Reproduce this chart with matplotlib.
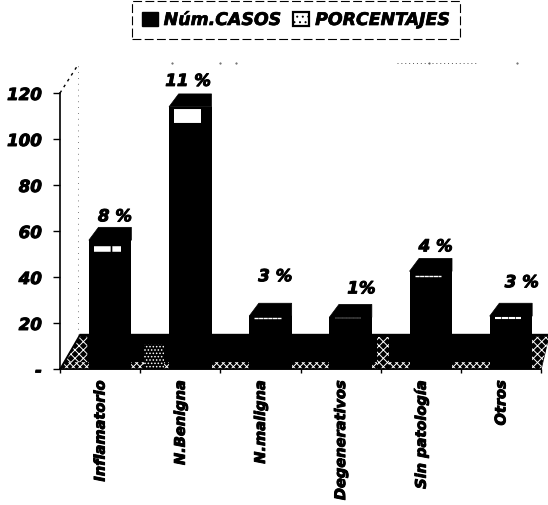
import matplotlib
matplotlib.use("Agg")
import matplotlib.pyplot as plt
import matplotlib.patheffects as pe
from matplotlib.patches import Patch, Polygon

categorias = ["Inflamatorio", "N.Benigna", "N.maligna", "Degenerativos", "Sin patología", "Otros"]
casos = [56, 114, 23, 22.5, 42.5, 23]
porcentajes = ["8 %", "11 %", "3 %", "1%", "4 %", "3 %"]
marcas = [52, 110, 22, 22, 40.5, 22]
yticks = [0, 20, 40, 60, 80, 100, 120]
ylabels = ["-", "20", "40", "60", "80", "100", "120"]

W, H = 548, 506
font = dict(family="DejaVu Sans", weight="bold", style="italic")
grueso = [pe.withStroke(linewidth=0.7, foreground="black")]

fig = plt.figure(figsize=(W / 100, H / 100), dpi=100)
ax = fig.add_axes([60 / W, 1 - 370 / H, (541 - 60) / W, (370 - 94) / H])
ax.set_xlim(0, 6)
ax.set_ylim(0, 120)

# profundidad del efecto 3D
dx = 0.12
dy = 5.6
ancho = 0.53
centros = [i + 0.5 + 0.125 for i in range(len(casos))]

# suelo negro con zonas punteadas
piso_y = 15
ax.add_patch(Polygon([(0, 0), (0.25, piso_y), (6.1, piso_y), (6.0, 0)],
                     closed=True, fc="black", ec="black", clip_on=False, zorder=1))
zonas = [
    ([(0.02, 0), (0.25, piso_y - 1), (0.34, piso_y - 1), (0.34, 0)], "xxxx"),
    ([(0.02, 0), (6.0, 0), (6.02, 3), (0.1, 3)], "xxxxx"),
    ([(1.05, 0), (1.3, 0), (1.3, 11), (1.05, 11)], "....."),
    ([(3.95, 0), (4.1, 0), (4.1, piso_y - 1), (3.95, piso_y - 1)], "xxxx"),
    ([(5.72, 0), (6.0, 0), (6.1, piso_y - 1), (5.87, piso_y - 1)], "xxxx"),
]
plt.rcParams["hatch.linewidth"] = 0.7
for z, h in zonas:
    ax.add_patch(Polygon(z, closed=True, fc="black", ec="white", hatch=h, lw=0,
                         clip_on=False, zorder=1.2))

# barras
ax.bar(centros, casos, width=ancho, color="black", zorder=2)
for c, v in zip(centros, casos):
    izq, der = c - ancho / 2, c + ancho / 2
    ax.add_patch(Polygon([(izq, v), (izq + dx, v + dy), (der, v + dy), (der, v)],
                         closed=True, fc="black", ec="black", lw=0.5, zorder=2))

# marcas blancas de la serie PORCENTAJES
grosor = [4, 10, 1, 0.3, 1, 1.5]
for c, m, g in zip(centros, marcas, grosor):
    ax.plot([c - 0.2, c + 0.13], [m, m], color="white", lw=g, ls=(0, (3, 0.3)),
            solid_capstyle="butt", zorder=3)

# porcentajes encima de cada barra
sep = [11, 13, 27, 16, 12, 21]
corr = [0, -7, 0, 6, 0, 6]
for c, v, t, s, k in zip(centros, casos, porcentajes, sep, corr):
    ax.annotate(t, (c + 0.06, v + dy), xytext=(k * 0.72, s * 0.72), textcoords="offset points",
                ha="center", va="center", fontsize=12, zorder=4, path_effects=grueso, **font)

# pared de fondo punteada
ax.plot([0, 0.22], [120, 132], color="black", lw=1, ls=(0, (2, 3)), clip_on=False)
ax.plot([0.22, 0.22], [piso_y, 132], color="#555555", lw=0.6, ls=(0, (1, 6)), clip_on=False)
ax.plot([1.4, 2.0, 2.2, 4.6, 5.7], [133, 133, 133, 133, 133], color="#555555", lw=0,
        marker=".", ms=1, clip_on=False)
ax.plot([4.2, 5.2], [133, 133], color="#555555", lw=0.7, ls=(0, (1, 3)), clip_on=False)

# ejes
for lado in ["top", "right"]:
    ax.spines[lado].set_visible(False)
ax.spines["left"].set_linewidth(1.2)
ax.spines["bottom"].set_linewidth(1.2)
ax.set_yticks(yticks)
ax.set_yticklabels(ylabels, fontsize=12, path_effects=grueso, **font)
ax.tick_params(axis="y", length=5, width=1, pad=8)
ax.set_xticks(range(7))
ax.set_xticklabels([])
ax.tick_params(axis="x", which="major", length=3, width=1)
ax.set_xticks([i + 0.5 for i in range(6)], minor=True)
ax.set_xticklabels(categorias, minor=True, rotation=90, fontsize=10.5, path_effects=grueso, **font)
ax.tick_params(axis="x", which="minor", length=0, pad=8)

# leyenda
handles = [Patch(fc="black", ec="black", label="Núm.CASOS"),
           Patch(fc="white", ec="black", lw=1.6, hatch="...", label="PORCENTAJES")]
leg = fig.legend(handles=handles, ncol=2, loc="center", bbox_to_anchor=(296 / W, 1 - 21 / H),
                 fancybox=False, edgecolor="black", framealpha=1, columnspacing=0.7,
                 handlelength=0.9, handleheight=0.9, handletextpad=0.35, borderpad=0.55,
                 prop=dict(family="DejaVu Sans", weight="bold", style="italic", size=12.5))
leg.get_frame().set_linewidth(0.8)
leg.get_frame().set_linestyle((0, (8, 3)))
for t in leg.get_texts():
    t.set_path_effects([pe.withStroke(linewidth=0.5, foreground="black")])

fig.savefig("out.png", dpi=100)
